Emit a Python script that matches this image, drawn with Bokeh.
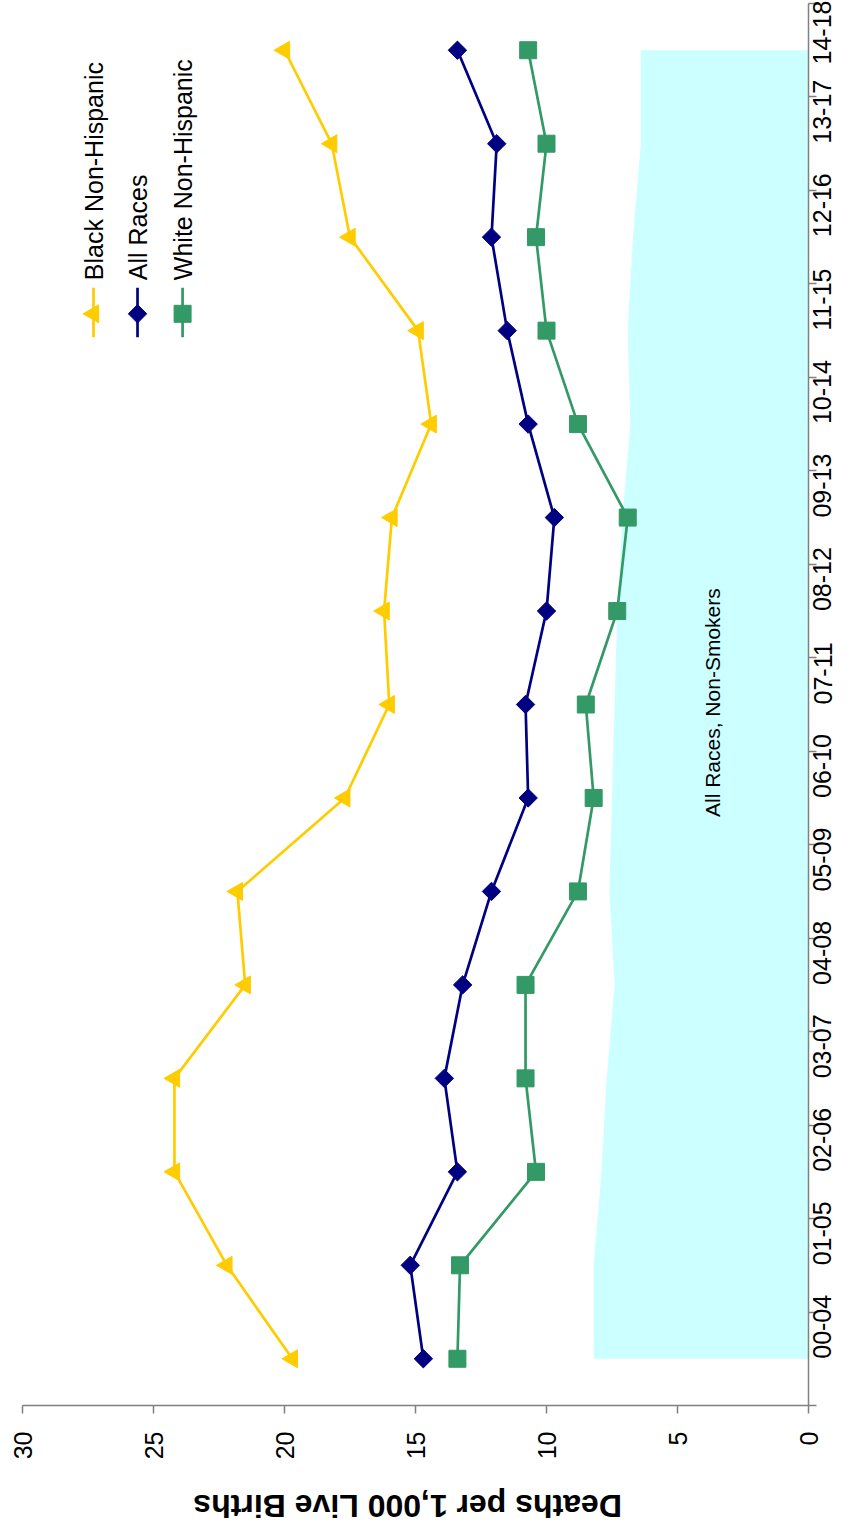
from math import pi
from bokeh.plotting import figure
from bokeh.layouts import column
from bokeh.models import Range1d, FixedTicker, Label, LinearAxis
from bokeh.embed import file_html
from bokeh.resources import INLINE

# ---- data ----
periods = ["00-04", "01-05", "02-06", "03-07", "04-08", "05-09", "06-10", "07-11",
           "08-12", "09-13", "10-14", "11-15", "12-16", "13-17", "14-18"]
black_nh = [19.7, 22.2, 24.2, 24.2, 21.5, 21.8, 17.7, 16.0, 16.2, 15.9, 14.4, 14.9, 17.5, 18.2, 20.0]
all_races = [14.7, 15.2, 13.4, 13.9, 13.2, 12.1, 10.7, 10.8, 10.0, 9.7, 10.7, 11.5, 12.1, 11.9, 13.4]
white_nh = [13.4, 13.3, 10.4, 10.8, 10.8, 8.8, 8.2, 8.5, 7.3, 6.9, 8.8, 10.0, 10.4, 10.0, 10.7]
nonsmokers = [8.2, 8.2, 7.9, 7.7, 7.4, 7.6, 7.5, 7.4, 7.3, 7.1, 6.8, 6.9, 6.7, 6.4, 6.4]
value_ticks = [0, 5, 10, 15, 20, 25, 30]
series_names = ["Black Non-Hispanic", "All Races", "White Non-Hispanic"]
area_name = "All Races, Non-Smokers"
axis_title = "Deaths per 1,000 Live Births"

idx = list(range(len(periods)))

FONT = "Liberation Sans"
YELLOW = "#FFCC00"
NAVY = "#000080"
GREEN = "#339966"
CYAN = "#CCFFFF"
AXIS = "#808080"

W = 853
BL, BR = 22, 45

p = figure(width=W, height=1465, output_backend="svg", toolbar_location=None,
           x_range=Range1d(30, 0), y_range=Range1d(-0.5, len(periods) - 0.5),
           x_axis_location=None, y_axis_location=None,
           min_border_left=BL, min_border_right=BR, min_border_top=3, min_border_bottom=60)
p.outline_line_color = None
p.xgrid.visible = False
p.ygrid.visible = False
p.background_fill_color = "white"

# value axis
xax = LinearAxis(ticker=FixedTicker(ticks=value_ticks, minor_ticks=[]))
xax.major_label_orientation = pi / 2
xax.major_label_text_font = FONT
xax.major_label_text_font_size = "25px"
xax.major_label_text_color = "black"
xax.axis_line_color = AXIS
xax.axis_line_width = 1.5
xax.major_tick_line_color = AXIS
xax.major_tick_line_width = 1.5
xax.major_tick_in = 0
xax.major_tick_out = 8
xax.minor_tick_line_color = None
xax.major_label_standoff = 18
p.add_layout(xax, "below")

# category axis
yax = LinearAxis(ticker=FixedTicker(ticks=idx, minor_ticks=[i - 0.5 for i in range(len(periods) + 1)]))
yax.major_label_overrides = {i: s for i, s in enumerate(periods)}
yax.major_label_orientation = pi / 2
yax.major_label_text_font = FONT
yax.major_label_text_font_size = "25px"
yax.major_label_text_color = "black"
yax.axis_line_color = AXIS
yax.axis_line_width = 1.5
yax.major_tick_line_color = None
yax.minor_tick_line_color = AXIS
yax.minor_tick_line_width = 1.5
yax.minor_tick_in = 0
yax.minor_tick_out = 8
yax.major_label_standoff = 6
p.add_layout(yax, "right")

# non-smokers area
p.harea(y=idx, x1=nonsmokers, x2=[0] * len(idx), fill_color=CYAN, fill_alpha=1.0)

# series
p.line(black_nh, idx, line_color=YELLOW, line_width=2.7)
p.scatter(black_nh, idx, marker="triangle", angle=pi / 2, size=18, fill_color=YELLOW, line_color=YELLOW)
p.line(all_races, idx, line_color=NAVY, line_width=2.7)
p.scatter(all_races, idx, marker="square", angle=pi / 4, size=13, fill_color=NAVY, line_color=NAVY)
p.line(white_nh, idx, line_color=GREEN, line_width=2.7)
p.scatter(white_nh, idx, marker="square", size=17, fill_color=GREEN, line_color=GREEN)

# area annotation
p.add_layout(Label(x=3.66, y=7.02, text=area_name, angle=pi / 2, text_align="center",
                   text_baseline="middle", text_font=FONT, text_font_size="21px", text_color="black"))

# legend (drawn rotated)
leg_x = [27.29, 25.61, 23.89]
leg_colors = [YELLOW, NAVY, GREEN]
for k in range(3):
    p.segment(x0=[leg_x[k]], y0=[10.93], x1=[leg_x[k]], y1=[11.46], line_color=leg_colors[k], line_width=2.7)
    p.add_layout(Label(x=leg_x[k], y=11.54, text=series_names[k], angle=pi / 2, text_align="left",
                       text_baseline="middle", text_font=FONT, text_font_size="25px", text_color="black"))
p.scatter([leg_x[0]], [11.18], marker="triangle", angle=pi / 2, size=18, fill_color=YELLOW, line_color=YELLOW)
p.scatter([leg_x[1]], [11.18], marker="square", angle=pi / 4, size=13, fill_color=NAVY, line_color=NAVY)
p.scatter([leg_x[2]], [11.18], marker="square", size=17, fill_color=GREEN, line_color=GREEN)

# axis title strip (upside down, as in the rotated original)
t = figure(width=W, height=60, output_backend="svg", toolbar_location=None,
           x_range=p.x_range, y_range=Range1d(0, 1),
           x_axis_location=None, y_axis_location=None,
           min_border_left=BL, min_border_right=BR, min_border_top=0, min_border_bottom=0)
t.outline_line_color = None
t.xgrid.visible = False
t.ygrid.visible = False
t.add_layout(Label(x=15.3, y=0.32, text=axis_title, angle=pi, text_align="center",
                   text_baseline="middle", text_font=FONT, text_font_size="32px",
                   text_font_style="bold", text_color="black"))

open("out.html", "w").write(file_html(column(p, t, spacing=0), INLINE))
